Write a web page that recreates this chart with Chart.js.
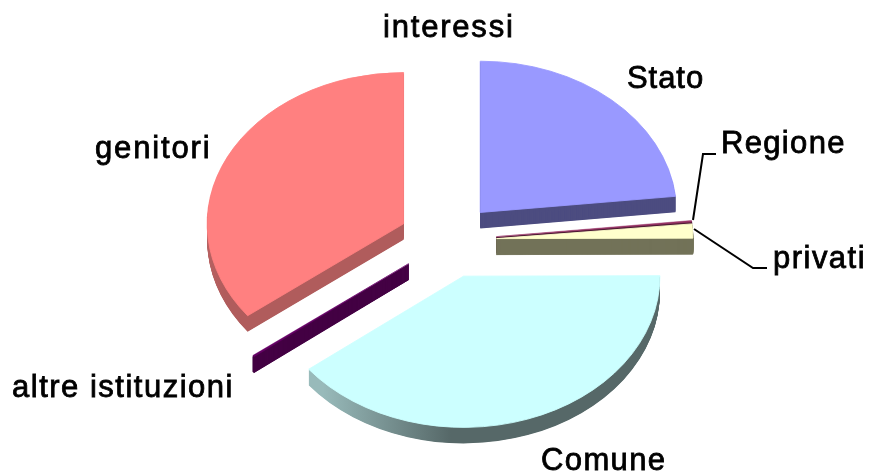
<!DOCTYPE html>
<html>
<head>
<meta charset="utf-8">
<style>html,body{margin:0;padding:0;background:#fff}canvas{display:block}</style>
<script src="https://cdn.jsdelivr.net/npm/chart.js@4/dist/chart.umd.min.js"></script>
</head>
<body>
<canvas id="c" width="869" height="472"></canvas>
<script>
const categories = ['Stato', 'Regione', 'privati', 'Comune', 'altre istituzioni', 'genitori', 'interessi'];
const shares = [23.3, 0.15, 1.5, 39.5, 0.15, 35.4, 0];
const topColors = ['#9999FF', '#993366', '#FFFFCC', '#CCFFFF', '#660066', '#FF8080', '#CCCCFF'];
const sideColors = ['#4D4D80', '#4D1A33', '#737358', null, '#440044', null, '#666680'];
const labelSpots = [[627, 88], [721, 153], [773, 268], [541, 470], [12, 397], [95, 158], [383, 37]];
const labelTracking = [0.94, 1.33, 1.48, 1.38, 1.5, 1.85, 1.8];
const leaderLines = [
  [[693, 220], [703, 154], [716, 154]],
  [[694, 229], [753, 268], [767, 268]]
];
const SQUASH = 0.77, DEPTH = 16, EXPLODE = 49, RADIUS = 196.4;
const drawOrder = [6, 0, 1, 2, 5, 4, 3];

const fakePie3d = {
  id: 'fakePie3d',
  beforeDatasetsDraw(chart) {
    const ctx = chart.ctx;
    const arcs = chart.getDatasetMeta(0).data;
    const cy = arcs[0].y;
    const sides = sideColors.slice();
    let g = ctx.createLinearGradient(307, 0, 435, 0);
    g.addColorStop(0, '#98BABA'); g.addColorStop(1, '#566868');
    sides[3] = g;
    g = ctx.createLinearGradient(207, 0, 270, 0);
    g.addColorStop(0, '#C86C6C'); g.addColorStop(1, '#B05C5C');
    sides[5] = g;
    ctx.save();
    ctx.translate(0, cy); ctx.scale(1, SQUASH); ctx.translate(0, -cy);
    drawOrder.forEach(i => {
      const a = arcs[i];
      if (a.circumference === 0) return;
      const thin = shares[i] < 1;
      const mid = (a.startAngle + a.endAngle) / 2;
      const base = a.options;
      ctx.save();
      ctx.translate(Math.cos(mid) * EXPLODE, Math.sin(mid) * EXPLODE);
      a.options = Object.assign({}, base, { backgroundColor: sides[i], borderColor: sides[i], borderWidth: thin || shares[i] < 2 ? 1 : 0, borderAlign: 'center', borderJoinStyle: 'miter' });
      for (let d = DEPTH; d >= 1; d -= 0.5) {
        ctx.save();
        ctx.translate(0, d / SQUASH);
        a.draw(ctx);
        ctx.restore();
      }
      a.options = Object.assign({}, base, { borderColor: topColors[i], borderWidth: thin ? 0.6 : 1, borderAlign: 'center', borderJoinStyle: 'miter' });
      a.draw(ctx);
      a.options = base;
      ctx.restore();
    });
    ctx.restore();

    ctx.save();
    ctx.strokeStyle = '#000'; ctx.lineWidth = 2; ctx.lineJoin = 'miter';
    leaderLines.forEach(l => {
      ctx.beginPath();
      l.forEach((p, k) => k ? ctx.lineTo(p[0], p[1]) : ctx.moveTo(p[0], p[1]));
      ctx.stroke();
    });
    ctx.fillStyle = '#000'; ctx.strokeStyle = '#000'; ctx.lineWidth = 0.8;
    ctx.font = '31px "Liberation Sans"';
    ctx.textAlign = 'left'; ctx.textBaseline = 'alphabetic';
    categories.forEach((t, i) => {
      ctx.letterSpacing = labelTracking[i] + 'px';
      ctx.fillText(t, labelSpots[i][0], labelSpots[i][1]);
      ctx.strokeText(t, labelSpots[i][0], labelSpots[i][1]);
    });
    ctx.restore();
    return false;
  }
};

new Chart(document.getElementById('c'), {
  type: 'pie',
  data: {
    labels: categories,
    datasets: [{
      data: shares,
      backgroundColor: topColors,
      borderWidth: 0,
      offset: 0,
      radius: RADIUS,
      clip: false
    }]
  },
  options: {
    responsive: false,
    animation: false,
    devicePixelRatio: 1,
    layout: { padding: { left: 26, top: 9 } },
    plugins: { legend: { display: false }, tooltip: { enabled: false } }
  },
  plugins: [fakePie3d]
});
</script>
</body>
</html>
